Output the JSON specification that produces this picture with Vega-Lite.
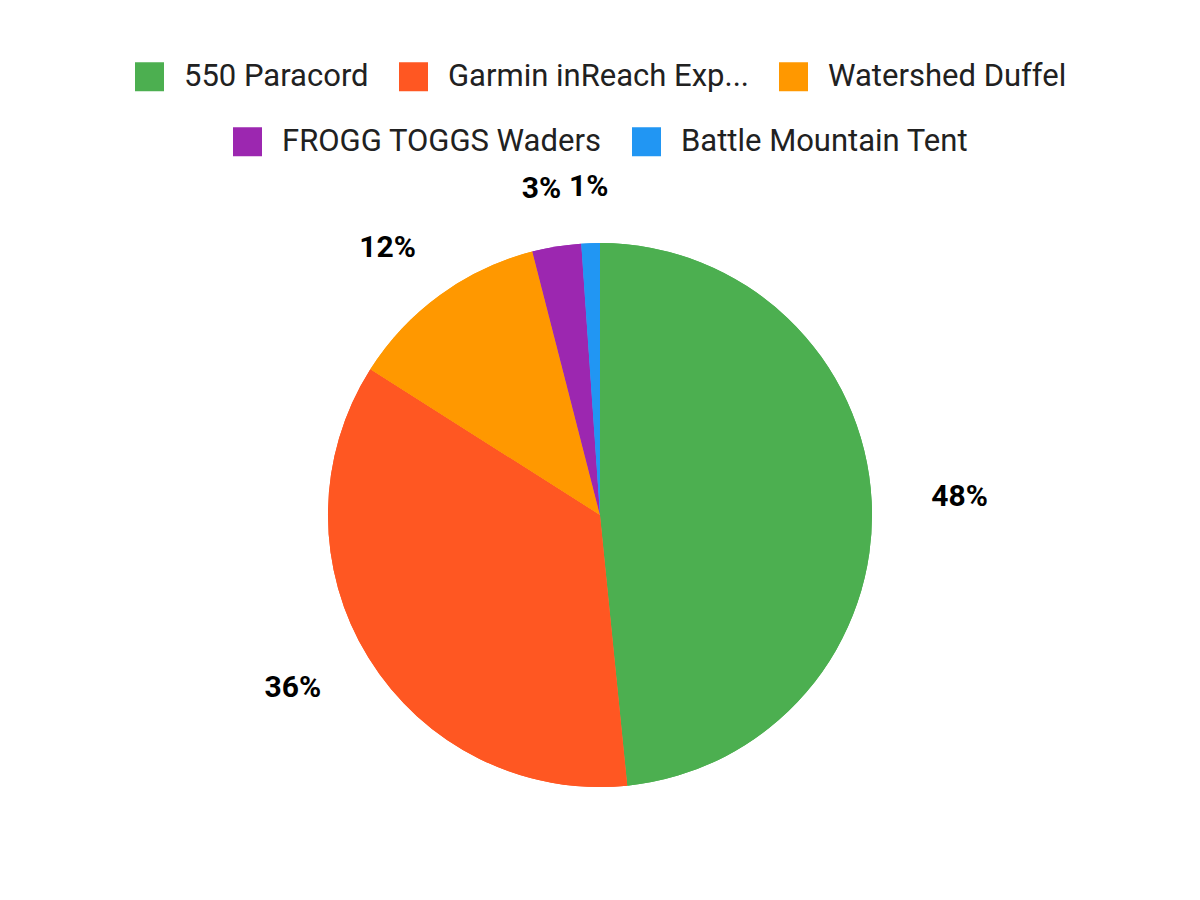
{
  "$schema": "https://vega.github.io/schema/vega-lite/v6.json",
  "width": 1200,
  "height": 682,
  "padding": {"top": 61, "left": 0, "right": 0, "bottom": 0},
  "background": "white",
  "data": {
    "values": [
      {"item": "550 Paracord", "share": 0.484, "rank": 1},
      {"item": "Garmin inReach Explorer+", "share": 0.356, "rank": 2},
      {"item": "Watershed Duffel", "share": 0.12, "rank": 3},
      {"item": "FROGG TOGGS Waders", "share": 0.029, "rank": 4},
      {"item": "Battle Mountain Tent", "share": 0.011, "rank": 5}
    ]
  },
  "layer": [
    {
      "mark": {"type": "arc", "radius": 272},
      "encoding": {
        "theta": {"field": "share", "type": "quantitative", "stack": true},
        "order": {"field": "rank", "type": "quantitative"},
        "color": {
          "field": "item",
          "type": "nominal",
          "sort": null,
          "scale": {
            "domain": ["550 Paracord", "Garmin inReach Explorer+", "Watershed Duffel", "FROGG TOGGS Waders", "Battle Mountain Tent"],
            "range": ["#4CAF50", "#FF5722", "#FF9800", "#9C27B0", "#2196F3"]
          },
          "legend": {
            "values": ["550 Paracord", "Garmin inReach Explorer+", "Watershed Duffel"],
            "title": null,
            "orient": "top",
            "direction": "horizontal",
            "labelExpr": "length(datum.label) > 20 ? slice(datum.label, 0, 18) + '...' : datum.label"
          }
        }
      }
    },
    {
      "mark": {"type": "arc", "radius": 272},
      "encoding": {
        "theta": {"field": "share", "type": "quantitative", "stack": true},
        "order": {"field": "rank", "type": "quantitative"},
        "fill": {
          "field": "item",
          "type": "nominal",
          "sort": null,
          "scale": {
            "domain": ["FROGG TOGGS Waders", "Battle Mountain Tent", "550 Paracord", "Garmin inReach Explorer+", "Watershed Duffel"],
            "range": ["#9C27B0", "#2196F3", "#4CAF50", "#FF5722", "#FF9800"]
          },
          "legend": {
            "values": ["FROGG TOGGS Waders", "Battle Mountain Tent"],
            "title": null,
            "orient": "top",
            "direction": "horizontal"
          }
        }
      }
    },
    {
      "mark": {"type": "text", "radius": 360, "font": "Roboto", "fontSize": 30, "fontWeight": "bold", "color": "#000000"},
      "encoding": {
        "theta": {"field": "share", "type": "quantitative", "stack": true},
        "order": {"field": "rank", "type": "quantitative"},
        "text": {"condition": {"test": "datum.rank == 1", "field": "share", "type": "quantitative", "format": ".0%"}, "value": ""}
      }
    },
    {
      "mark": {"type": "text", "radius": 355, "dx": -5, "dy": -13, "font": "Roboto", "fontSize": 30, "fontWeight": "bold", "color": "#000000"},
      "encoding": {
        "theta": {"field": "share", "type": "quantitative", "stack": true},
        "order": {"field": "rank", "type": "quantitative"},
        "text": {"condition": {"test": "datum.rank == 2", "field": "share", "type": "quantitative", "format": ".0%"}, "value": ""}
      }
    },
    {
      "mark": {"type": "text", "radius": 341, "dx": -12, "dy": 9, "font": "Roboto", "fontSize": 30, "fontWeight": "bold", "color": "#000000"},
      "encoding": {
        "theta": {"field": "share", "type": "quantitative", "stack": true},
        "order": {"field": "rank", "type": "quantitative"},
        "text": {"condition": {"test": "datum.rank == 3", "field": "share", "type": "quantitative", "format": ".0%"}, "value": ""}
      }
    },
    {
      "mark": {"type": "text", "radius": 330, "dx": -6, "font": "Roboto", "fontSize": 30, "fontWeight": "bold", "color": "#000000"},
      "encoding": {
        "theta": {"field": "share", "type": "quantitative", "stack": true},
        "order": {"field": "rank", "type": "quantitative"},
        "text": {"condition": {"test": "datum.rank == 4", "field": "share", "type": "quantitative", "format": ".0%"}, "value": ""}
      }
    },
    {
      "mark": {"type": "text", "radius": 328, "font": "Roboto", "fontSize": 30, "fontWeight": "bold", "color": "#000000"},
      "encoding": {
        "theta": {"field": "share", "type": "quantitative", "stack": true},
        "order": {"field": "rank", "type": "quantitative"},
        "text": {"condition": {"test": "datum.rank == 5", "field": "share", "type": "quantitative", "format": ".0%"}, "value": ""}
      }
    }
  ],
  "resolve": {"scale": {"color": "independent", "fill": "independent"}},
  "config": {
    "view": {"stroke": null},
    "legend": {
      "labelFont": "Roboto",
      "labelFontSize": 31,
      "labelColor": "#212121",
      "symbolType": "square",
      "symbolSize": 841,
      "symbolStrokeWidth": 0,
      "symbolOpacity": 1,
      "labelOffset": 19,
      "columnPadding": 29,
      "labelLimit": 500,
      "offset": 17,
      "layout": {"top": {"direction": "vertical", "anchor": "middle", "center": true, "margin": 34}}
    }
  }
}
